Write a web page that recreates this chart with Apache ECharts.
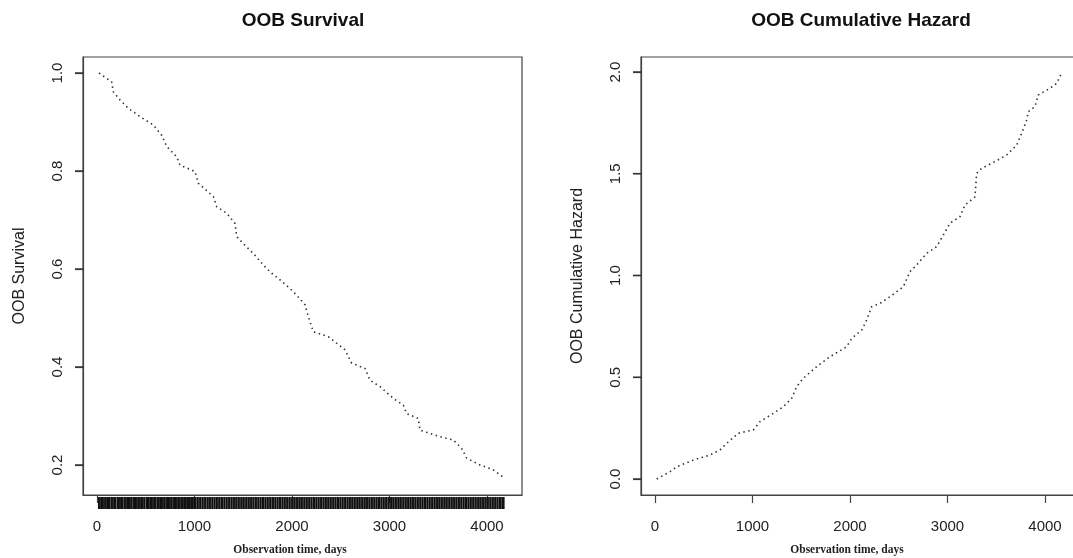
<!DOCTYPE html>
<html>
<head>
<meta charset="utf-8">
<script src="https://cdn.jsdelivr.net/npm/echarts@6/dist/echarts.min.js"></script>
<style>
  html, body { margin: 0; padding: 0; background: #fff; overflow: hidden; width: 1073px; height: 558px; }
  #chart { width: 1116px; height: 558px; }
</style>
</head>
<body>
<div id="chart"></div>
<script>
// ---- data ----
const survTime = [20,150,167,236,321,441,577,663,715,817,851,1005,1039,1193,1228,1330,1415,1433,1500,1560,1620,1680,1740,1800,1877,2013,2133,2167,2218,2372,2544,2612,2749,2800,2903,3039,3142,3176,3295,3313,3518,3655,3740,3792,3928,4065,4161];
const survVal  = [1.0,0.982,0.962,0.945,0.928,0.911,0.894,0.873,0.850,0.829,0.812,0.799,0.775,0.748,0.727,0.714,0.693,0.666,0.652,0.640,0.628,0.614,0.601,0.590,0.578,0.554,0.527,0.503,0.472,0.462,0.435,0.408,0.397,0.373,0.360,0.336,0.322,0.305,0.295,0.271,0.258,0.251,0.234,0.214,0.200,0.190,0.176];

const hazTime = [17,154,222,393,564,667,735,854,1008,1077,1214,1316,1402,1453,1521,1658,1795,1966,2017,2120,2171,2222,2308,2410,2547,2615,2684,2787,2889,2957,3026,3128,3179,3282,3299,3351,3453,3607,3710,3761,3812,3829,3897,3931,4051,4120,4164];
const hazVal  = [0,0.036,0.060,0.093,0.118,0.143,0.175,0.225,0.241,0.282,0.323,0.355,0.397,0.454,0.495,0.552,0.601,0.650,0.691,0.732,0.781,0.847,0.863,0.896,0.945,1.019,1.052,1.109,1.142,1.199,1.257,1.289,1.346,1.387,1.502,1.527,1.551,1.592,1.641,1.699,1.764,1.805,1.830,1.887,1.920,1.944,1.989];

// event times shown as a rug under the survival plot (estimated)
const rugTimes = [18,30,45,58,72,90,104,118,131,150,163,178,190,210,224,236,250,262,280,296,310,322,336,350,370,384,398,410,428,441,456,470,485,505,518,530,545,560,574,588,602,620,634,648,662,676,690,708,722,736,748,762,780,794,808,820,836,850,866,880,894,910,924,938,952,966,982,996,
1010,1028,1046,1062,1080,1098,1115,1134,1150,1168,1186,1204,1222,1240,1256,1274,1290,1308,1326,1344,1360,1378,1396,1414,1430,1448,1466,1484,1500,1518,1536,1554,1570,1588,1606,1624,1640,1658,1676,1694,1710,1728,1746,1764,1780,1798,1814,1832,1850,1868,1884,1902,1920,1938,1954,1972,1990,
2008,2024,2042,2060,2078,2094,2112,2130,2148,2164,2182,2200,2218,2234,2252,2270,2288,2304,2322,2340,2358,2374,2392,2410,2428,2446,2464,2480,2498,2516,2534,2550,2568,2586,2604,2620,2638,2656,2674,2690,2708,2726,2744,2760,2778,2796,2814,2830,2848,2866,2884,2900,2918,2936,2954,2970,2988,
3006,3024,3040,3058,3076,3094,3110,3128,3146,3164,3180,3198,3216,3233,3250,3268,3286,3302,3320,3338,3356,3372,3390,3408,3426,3442,3460,3478,3496,3512,3530,3548,3566,3582,3600,3618,3636,3652,3670,3688,3706,3722,3740,3758,3776,3792,3810,3828,3846,3862,3880,3898,3916,3932,3950,3968,3986,4002,4020,4038,4056,4072,4090,4108,4126,4142,4160,4172];

const xTicks = [0, 1000, 2000, 3000, 4000];
const survTicks = [0.2, 0.4, 0.6, 0.8, 1.0];
const hazTicks = [0.0, 0.5, 1.0, 1.5, 2.0];

const titles = ['OOB Survival', 'OOB Cumulative Hazard'];
const yNames = ['OOB Survival', 'OOB Cumulative Hazard'];
const xName = 'Observation time, days';

// ---- chart ----
const chart = echarts.init(document.getElementById('chart'), null, { renderer: 'canvas', width: 1116, height: 558 });

const SURV_MIN = 0.1388, SURV_MAX = 1.0327;
const HAZ_MIN = -0.0786, HAZ_MAX = 2.0737;
const X_MIN = -144, X_MAX = 4359;
const axisColor = '#444';
const sans = "'Liberation Sans', Arial, Helvetica, sans-serif";
const serifBold = "bold 11.5px 'Liberation Serif', 'Times New Roman', serif";
const titleFont = "bold 19px 'Liberation Sans', Arial, Helvetica, sans-serif";

function xAxisDef(gridIndex) {
  return {
    type: 'value', gridIndex, min: X_MIN, max: X_MAX, position: 'bottom',
    splitLine: { show: false },
    axisLine: { show: true, onZero: false, lineStyle: { color: axisColor, width: 1.2 } },
    axisTick: { show: true, customValues: xTicks, length: 8, inside: false, lineStyle: { color: axisColor, width: 1.2 } },
    axisLabel: { customValues: xTicks, margin: 24, color: '#222', fontSize: 15, fontFamily: sans, formatter: v => String(v) }
  };
}
function yAxisDef(gridIndex, min, max, ticks, name) {
  return {
    type: 'value', gridIndex, min, max, position: 'left',
    name, nameLocation: 'middle', nameRotate: 90, nameGap: 55,
    nameTextStyle: { fontSize: 16, fontFamily: sans, color: '#222' },
    splitLine: { show: false },
    axisLine: { show: true, onZero: false, lineStyle: { color: axisColor, width: 1.2 } },
    axisTick: { show: true, customValues: ticks, length: 8, inside: false, lineStyle: { color: axisColor, width: 1.2 } },
    axisLabel: { customValues: ticks, rotate: 90, margin: 18, color: '#222', fontSize: 15, fontFamily: sans, formatter: v => v.toFixed(1) }
  };
}

// y-axis tick marks drawn through the axis scale (outside the box, pointing left)
function yTickSeries(axisIndex, ticks) {
  return {
    type: 'custom', xAxisIndex: axisIndex, yAxisIndex: axisIndex, silent: true, clip: false, z: 10,
    data: ticks.map(v => [X_MIN, v]),
    renderItem: function (params, api) {
      const p = api.coord([api.value(0), api.value(1)]);
      return {
        type: 'line',
        shape: { x1: p[0] - 8, y1: p[1], x2: p[0] + 1, y2: p[1] },
        style: { stroke: '#333', lineWidth: 1.5 }
      };
    }
  };
}

const dotted = { color: '#333', width: 1.6, type: [1.5, 3.5], cap: 'butt' };

chart.setOption({
  animation: false,
  backgroundColor: '#fff',
  grid: [
    { left: 83, top: 57, width: 439, height: 438, show: true, borderColor: axisColor, borderWidth: 1.2, backgroundColor: 'transparent' },
    { left: 641, top: 57, width: 439, height: 438, show: true, borderColor: axisColor, borderWidth: 1.2, backgroundColor: 'transparent' }
  ],
  xAxis: [xAxisDef(0), xAxisDef(1)],
  yAxis: [
    yAxisDef(0, SURV_MIN, SURV_MAX, survTicks, yNames[0]),
    yAxisDef(1, HAZ_MIN, HAZ_MAX, hazTicks, yNames[1])
  ],
  graphic: [
    { type: 'text', x: 303, y: 21, style: { text: titles[0], font: titleFont, fill: '#111', textAlign: 'center', textVerticalAlign: 'middle' } },
    { type: 'text', x: 861, y: 21, style: { text: titles[1], font: titleFont, fill: '#111', textAlign: 'center', textVerticalAlign: 'middle' } },
    { type: 'text', x: 290, y: 550, style: { text: xName, font: serifBold, fill: '#222', textAlign: 'center', textVerticalAlign: 'middle' } },
    { type: 'text', x: 847, y: 550, style: { text: xName, font: serifBold, fill: '#222', textAlign: 'center', textVerticalAlign: 'middle' } }
  ],
  series: [
    {
      type: 'line', xAxisIndex: 0, yAxisIndex: 0, showSymbol: false, symbol: 'none',
      data: survTime.map((t, i) => [t, survVal[i]]), lineStyle: dotted, silent: true
    },
    {
      type: 'line', xAxisIndex: 1, yAxisIndex: 1, showSymbol: false, symbol: 'none',
      data: hazTime.map((t, i) => [t, hazVal[i]]), lineStyle: dotted, silent: true
    },
    {
      type: 'custom', xAxisIndex: 0, yAxisIndex: 0, silent: true, clip: false,
      data: rugTimes.map(t => [t, SURV_MIN]),
      renderItem: function (params, api) {
        const p = api.coord([api.value(0), api.value(1)]);
        return {
          type: 'line',
          shape: { x1: p[0], y1: p[1] + 2, x2: p[0], y2: p[1] + 14 },
          style: { stroke: '#111', lineWidth: 1.7 }
        };
      }
    },
    yTickSeries(0, survTicks),
    yTickSeries(1, hazTicks)
  ]
});
</script>
</body>
</html>
